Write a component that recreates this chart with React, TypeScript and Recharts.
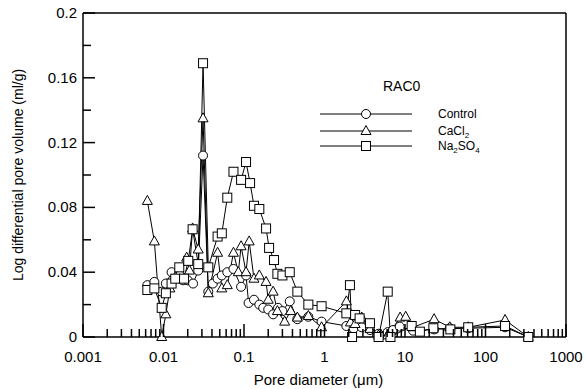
import { LineChart, Line, XAxis, YAxis, ReferenceLine } from 'recharts'

// pore diameter (um) / log differential pore volume (ml/g)
const control = [
  { d: 0.0063, v: 0.032 }, { d: 0.0077, v: 0.034 }, { d: 0.0095, v: 0.028 }, { d: 0.0107, v: 0.033 },
  { d: 0.0126, v: 0.04 }, { d: 0.014, v: 0.036 }, { d: 0.0157, v: 0.038 }, { d: 0.0175, v: 0.035 },
  { d: 0.02, v: 0.035 }, { d: 0.0233, v: 0.033 }, { d: 0.027, v: 0.041 }, { d: 0.031, v: 0.112 },
  { d: 0.036, v: 0.028 }, { d: 0.041, v: 0.033 }, { d: 0.047, v: 0.036 }, { d: 0.053, v: 0.038 },
  { d: 0.062, v: 0.04 }, { d: 0.074, v: 0.042 }, { d: 0.092, v: 0.031 }, { d: 0.106, v: 0.038 },
  { d: 0.114, v: 0.021 }, { d: 0.133, v: 0.023 }, { d: 0.155, v: 0.02 }, { d: 0.173, v: 0.018 },
  { d: 0.2, v: 0.017 }, { d: 0.23, v: 0.014 }, { d: 0.265, v: 0.018 }, { d: 0.3, v: 0.016 },
  { d: 0.37, v: 0.022 }, { d: 0.46, v: 0.011 }, { d: 0.63, v: 0.0125 }, { d: 0.92, v: 0.0095 },
  { d: 1.87, v: 0.0068 }, { d: 2.3, v: 0.0053 }, { d: 2.9, v: 0.006 }, { d: 3.67, v: 0.0043 },
  { d: 4.7, v: 0.002 }, { d: 6.1, v: 0.003 }, { d: 7.1, v: 0.0043 }, { d: 8.6, v: 0.0064 },
  { d: 12.6, v: 0.0039 }, { d: 23, v: 0.0047 }, { d: 36, v: 0.0054 }, { d: 61, v: 0.0054 },
  { d: 175, v: 0.006 }, { d: 340, v: 0 },
]

const cacl2 = [
  { d: 0.0063, v: 0.084 }, { d: 0.0077, v: 0.059 }, { d: 0.0095, v: 0 }, { d: 0.0107, v: 0.014 },
  { d: 0.012, v: 0.03 }, { d: 0.014, v: 0.037 }, { d: 0.016, v: 0.04 }, { d: 0.0194, v: 0.049 },
  { d: 0.021, v: 0.041 }, { d: 0.023, v: 0.067 }, { d: 0.027, v: 0.054 }, { d: 0.031, v: 0.135 },
  { d: 0.036, v: 0.027 }, { d: 0.047, v: 0.052 }, { d: 0.053, v: 0.03 }, { d: 0.062, v: 0.032 },
  { d: 0.074, v: 0.052 }, { d: 0.085, v: 0.04 }, { d: 0.092, v: 0.056 }, { d: 0.106, v: 0.04 },
  { d: 0.116, v: 0.059 }, { d: 0.133, v: 0.036 }, { d: 0.155, v: 0.038 }, { d: 0.188, v: 0.034 },
  { d: 0.2, v: 0.023 }, { d: 0.23, v: 0.028 }, { d: 0.26, v: 0.016 }, { d: 0.32, v: 0.0095 },
  { d: 0.38, v: 0.016 }, { d: 0.46, v: 0.012 }, { d: 0.63, v: 0.013 }, { d: 0.92, v: 0.006 },
  { d: 1.87, v: 0.022 }, { d: 2.1, v: 0.009 }, { d: 2.4, v: 0.008 }, { d: 2.9, v: 0.012 },
  { d: 3.67, v: 0.005 }, { d: 4.7, v: 0.001 }, { d: 6.1, v: 0.001 }, { d: 8.7, v: 0.012 },
  { d: 10.2, v: 0.0125 }, { d: 12.6, v: 0.006 }, { d: 23, v: 0.011 }, { d: 36, v: 0.006 },
  { d: 61, v: 0.006 }, { d: 175, v: 0.0105 }, { d: 340, v: 0 },
]

const na2so4 = [
  { d: 0.0063, v: 0.029 }, { d: 0.0077, v: 0.03 }, { d: 0.0095, v: 0.018 }, { d: 0.0107, v: 0.027 },
  { d: 0.0126, v: 0.033 }, { d: 0.014, v: 0.036 }, { d: 0.0157, v: 0.043 }, { d: 0.018, v: 0.036 },
  { d: 0.0203, v: 0.047 }, { d: 0.023, v: 0.0665 }, { d: 0.027, v: 0.045 }, { d: 0.031, v: 0.169 },
  { d: 0.036, v: 0.043 }, { d: 0.047, v: 0.062 }, { d: 0.053, v: 0.064 }, { d: 0.062, v: 0.086 },
  { d: 0.074, v: 0.102 }, { d: 0.092, v: 0.097 }, { d: 0.106, v: 0.108 }, { d: 0.119, v: 0.095 },
  { d: 0.133, v: 0.081 }, { d: 0.155, v: 0.079 }, { d: 0.188, v: 0.067 }, { d: 0.205, v: 0.055 },
  { d: 0.236, v: 0.0475 }, { d: 0.26, v: 0.039 }, { d: 0.3, v: 0.038 }, { d: 0.37, v: 0.04 },
  { d: 0.46, v: 0.028 }, { d: 0.63, v: 0.02 }, { d: 0.92, v: 0.019 }, { d: 1.87, v: 0.0146 },
  { d: 2.07, v: 0.032 }, { d: 2.2, v: 0 }, { d: 2.4, v: 0.0136 }, { d: 2.73, v: 0.0115 },
  { d: 3.67, v: 0.0085 }, { d: 4.7, v: 0 }, { d: 6.1, v: 0.028 }, { d: 6.6, v: 0 },
  { d: 12.1, v: 0.0068 }, { d: 15.3, v: 0.0033 }, { d: 22.5, v: 0.0054 }, { d: 36.6, v: 0.0047 },
  { d: 61, v: 0.006 }, { d: 175, v: 0.0068 }, { d: 340, v: 0 },
]

const xMajor = [0.001, 0.01, 0.1, 1, 10, 100, 1000]
const xLabels = ['0.001', '0.01', '0.1', '1', '10', '100', '1000']
const yTicks = [0, 0.02, 0.04, 0.06, 0.08, 0.1, 0.12, 0.14, 0.16, 0.18, 0.2]
const yLabels = ['0', '0.04', '0.08', '0.12', '0.16', '0.2']

const xMinor = xMajor.slice(0, -1).flatMap(m => [2, 3, 4, 5, 6, 7, 8, 9].map(k => k * m))
const xTicks = [...xMajor, ...xMinor].sort((a, b) => a - b)

const FONT = '"Liberation Sans", Arial, sans-serif'

function XTick({ x, y, payload }: any) {
  const i = xMajor.indexOf(payload.value)
  return (
    <g>
      <line x1={x} x2={x} y1={y} y2={y - (i >= 0 ? 13 : 8)} stroke="#000" strokeWidth={1.5} />
      {i >= 0 && (
        <text x={x} y={y + 25} textAnchor="middle" fontSize={15} fontFamily={FONT} fill="#000">
          {xLabels[i]}
        </text>
      )}
    </g>
  )
}

function YTick({ x, y, index }: any) {
  const major = index % 2 === 0
  return (
    <g>
      <line x1={x} x2={x + (major ? 12 : 8)} y1={y} y2={y} stroke="#000" strokeWidth={1.5} />
      {major && (
        <text x={x - 6} y={y + 5} textAnchor="end" fontSize={15} fontFamily={FONT} fill="#000">
          {yLabels[index / 2]}
        </text>
      )}
    </g>
  )
}

function Marker({ shape, cx, cy }: { shape: string; cx: number; cy: number }) {
  const p = { fill: '#fff', stroke: '#000', strokeWidth: 1 }
  if (shape === 'circle') return <circle cx={cx} cy={cy} r={4.5} {...p} />
  if (shape === 'square') return <rect x={cx - 4.5} y={cy - 4.5} width={9} height={9} {...p} />
  return <polygon points={`${cx},${cy - 5.5} ${cx + 5},${cy + 3.5} ${cx - 5},${cy + 3.5}`} {...p} />
}

const series = [
  { name: 'Control', data: control, shape: 'circle' },
  { name: 'CaCl2', data: cacl2, shape: 'triangle' },
  { name: 'Na2SO4', data: na2so4, shape: 'square' },
]

function LegendBox() {
  const rows = [114, 131, 146]
  return (
    <svg width={586} height={389} style={{ position: 'absolute', left: 0, top: 0, pointerEvents: 'none' }}>
      <text x={383} y={91} fontSize={14} fontFamily={FONT}>RAC0</text>
      {series.map((s, i) => (
        <g key={s.name}>
          <line x1={320} x2={412} y1={rows[i]} y2={rows[i]} stroke="#000" strokeWidth={1} />
          <Marker shape={s.shape} cx={366} cy={rows[i]} />
        </g>
      ))}
      <g fontSize={12} fontFamily={FONT}>
        <text x={438} y={rows[0] + 4}>Control</text>
        <text x={438} y={rows[1] + 4}>
          CaCl<tspan fontSize={8} dy={3}>2</tspan>
        </text>
        <text x={438} y={rows[2] + 4}>
          Na<tspan fontSize={8} dy={3}>2</tspan>
          <tspan dy={-3}>SO</tspan>
          <tspan fontSize={8} dy={3}>4</tspan>
        </text>
      </g>
    </svg>
  )
}

export default function App() {
  const axisLine = { stroke: '#000', strokeWidth: 1.5 }
  return (
    <div style={{ position: 'absolute', left: 0, top: 0, width: 586, height: 389, background: '#fff' }}>
      <LineChart width={586} height={389} margin={{ top: 13, right: 20, bottom: 0, left: 0 }}>
        <XAxis
          dataKey="d"
          type="number"
          scale="log"
          domain={[0.001, 1000]}
          ticks={xTicks}
          interval={0}
          height={52}
          tickSize={0}
          tickMargin={0}
          tickLine={false}
          tick={<XTick />}
          axisLine={axisLine}
          label={{ value: 'Pore diameter (μm)', position: 'insideBottom', offset: 4, dx: -6, fontSize: 15, fill: '#000', fontFamily: FONT }}
        />
        <YAxis
          type="number"
          domain={[0, 0.2]}
          ticks={yTicks}
          interval={0}
          width={83}
          tickSize={0}
          tickMargin={0}
          tickLine={false}
          tick={<YTick />}
          axisLine={axisLine}
          label={{ value: 'Log differential pore volume (ml/g)', angle: -90, position: 'insideLeft', offset: 18, fontSize: 14, fill: '#000', fontFamily: FONT, style: { textAnchor: 'middle' } }}
        />
        <ReferenceLine y={0.2} stroke="#000" strokeWidth={1.5} />
        <ReferenceLine x={1000} stroke="#000" strokeWidth={1.5} />
        {series.map(s => (
          <Line
            key={s.name}
            data={s.data}
            dataKey="v"
            stroke="#000"
            strokeWidth={1}
            isAnimationActive={false}
            activeDot={false}
            dot={(p: any) => <Marker key={p.index} shape={s.shape} cx={p.cx} cy={p.cy} />}
          />
        ))}
      </LineChart>
      <LegendBox />
    </div>
  )
}
